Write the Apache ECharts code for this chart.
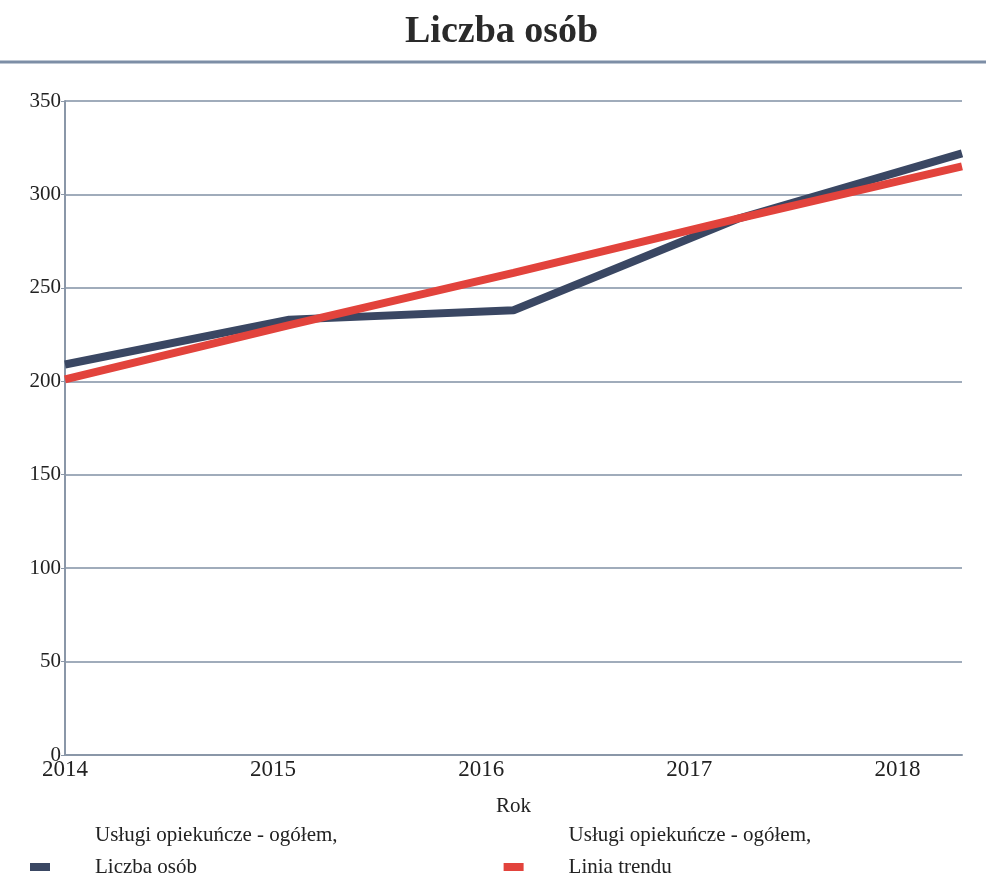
<!DOCTYPE html>
<html><head><meta charset="utf-8">
<script src="https://cdn.jsdelivr.net/npm/echarts@6/dist/echarts.min.js"></script>
<style>html,body{margin:0;padding:0;background:#fff}#c{width:986px;height:881px}</style>
</head><body><div id="c"></div>
<script>
const years = ['2014', '2015', '2016', '2017', '2018'];
const yearTicks = [2014, 2015, 2016, 2017, 2018];
const liczbaOsob = [209, 233, 238, 287, 322];
const liniaTrendu = [201, 230, 258, 287, 315];
const seriesNames = ['Usługi opiekuńcze - ogółem,\nLiczba osób', 'Usługi opiekuńcze - ogółem,\nLinia trendu'];

const font = 'Liberation Serif, Times New Roman, serif';
const chart = echarts.init(document.getElementById('c'));
chart.setOption({
  backgroundColor: '#fff',
  animation: false,
  title: { text: 'Liczba osób', left: 400, top: 8,
    textStyle: { fontFamily: font, fontSize: 38, fontWeight: 'bold', color: '#2a2a2a' } },
  graphic: [{ type: 'line', shape: { x1: 0, y1: 62, x2: 986, y2: 62 },
    style: { stroke: '#7d8ea6', lineWidth: 3 } }],
  grid: { left: 65, right: 24, top: 101, bottom: 126 },
  legend: {
    left: 25, top: 814, itemWidth: 20, itemHeight: 8, itemGap: 166,
    icon: 'rect',
    formatter: name => name + '\n ',
    textStyle: { fontFamily: font, fontSize: 21, color: '#222', lineHeight: 32, padding: [0, 0, 0, 40] },
    data: seriesNames
  },
  xAxis: [
    { type: 'category', data: years, boundaryGap: false, show: false },
    { type: 'value', position: 'bottom', min: yearTicks[0], max: 2018.31, interval: 1,
      name: 'Rok', nameLocation: 'middle', nameGap: 41,
      nameTextStyle: { fontFamily: font, fontSize: 21, color: '#222' },
      axisLine: { show: true, lineStyle: { color: '#8a97a8', width: 2 } },
      axisTick: { show: false }, splitLine: { show: false },
      axisLabel: { margin: 3, fontFamily: font, fontSize: 23, color: '#222', showMaxLabel: false,
        formatter: v => (yearTicks.indexOf(v) >= 0 ? String(v) : '') } }
  ],
  yAxis: {
    type: 'value', min: 0, max: 350, interval: 50,
    axisLine: { show: true, lineStyle: { color: '#8a97a8', width: 2 } },
    axisTick: { show: true, length: 4, lineStyle: { color: '#8a97a8' } },
    splitLine: { lineStyle: { color: '#8090a4', width: 1.5 } },
    axisLabel: { margin: 4, fontFamily: font, fontSize: 21, color: '#222' }
  },
  series: [
    { name: seriesNames[0], type: 'line', xAxisIndex: 0, data: liczbaOsob, symbol: 'none',
      lineStyle: { color: '#3a4763', width: 8 }, itemStyle: { color: '#3a4763' } },
    { name: seriesNames[1], type: 'line', xAxisIndex: 0, data: liniaTrendu, symbol: 'none',
      lineStyle: { color: '#e2433c', width: 8 }, itemStyle: { color: '#e2433c' } }
  ]
});
</script></body></html>
